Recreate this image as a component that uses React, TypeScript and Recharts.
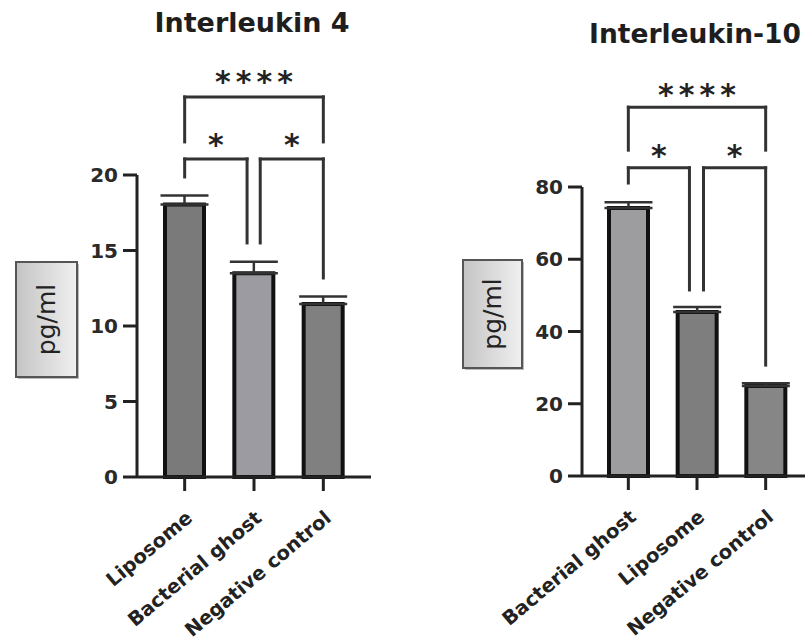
import React from 'react';
import { BarChart, Bar, XAxis, YAxis, Cell, ErrorBar, ReferenceLine, ReferenceDot } from 'recharts';

// ---- Interleukin 4 ----
const il4Categories = ['Liposome', 'Bacterial ghost', 'Negative control'];
const il4Means = [18.05, 13.5, 11.45];
const il4Errors = [0.6, 0.75, 0.5];
const il4Ticks = [0, 5, 10, 15, 20];

// ---- Interleukin-10 ----
const il10Categories = ['Bacterial ghost', 'Liposome', 'Negative control'];
const il10Means = [74.2, 45.4, 24.9];
const il10Errors = [1.6, 1.4, 0.8];
const il10Ticks = [0, 20, 40, 60, 80];

// significance annotations (x in category index units, y in data units)
const il4Sig = [
  { x1: 0, x2: 2, top: 25.17, b1: 22.19, b2: 22.19, text: '****', ty: 26.6 },
  { x1: 0, x2: 0.9, top: 21.06, b1: 19.87, b2: 15.5, text: '*', ty: 22.4 },
  { x1: 1.09, x2: 2, top: 21.06, b1: 15.5, b2: 13.18, text: '*', ty: 22.4 },
];
const il10Sig = [
  { x1: 0, x2: 2, top: 102.1, b1: 90.2, b2: 90.2, text: '****', ty: 107.4 },
  { x1: 0, x2: 0.89, top: 85.3, b1: 81.1, b2: 51.5, text: '*', ty: 90.4 },
  { x1: 1.095, x2: 2, top: 85.3, b1: 51.5, b2: 30.7, text: '*', ty: 90.4 },
];

const il4Fills = ['#7a7a7a', '#9b9ba1', '#808080'];
const il10Fills = ['#9d9d9f', '#7e7e7e', '#868686'];

const AX = '#222';
const BOLD = '"DejaVu Sans", sans-serif';

const CatTick = (props: any) => {
  const { x, y, payload } = props;
  const ax = x + 9;
  const ay = y + 27;
  return (
    <text
      x={ax}
      y={ay}
      transform={`rotate(-40 ${ax} ${ay})`}
      textAnchor="end"
      fontFamily={BOLD}
      fontWeight="bold"
      fontSize={19.5}
      fill="#222"
    >
      {payload.value}
    </text>
  );
};

const makeBoxLabel = (dx: number, w: number, dy: number, h: number, gid: string) => (props: any) => {
  const vb = props.viewBox || { x: 0, y: 0, width: 0, height: 0 };
  const bx = vb.x - dx;
  const by = vb.y + dy;
  const cx = bx + w / 2;
  const cy = by + h / 2;
  return (
    <g>
      <defs>
        <linearGradient id={gid} x1="0" y1="0" x2="1" y2="0">
          <stop offset="0%" stopColor="#c4c4c4" />
          <stop offset="100%" stopColor="#f0f0f0" />
        </linearGradient>
      </defs>
      <rect x={bx + 2} y={by + 2} width={w} height={h} fill="#bbb" />
      <rect x={bx} y={by} width={w} height={h} fill={`url(#${gid})`} stroke="#555" strokeWidth={2} />
      <text
        x={cx}
        y={cy}
        transform={`rotate(-90 ${cx} ${cy})`}
        textAnchor="middle"
        dominantBaseline="central"
        fontFamily='"DejaVu Sans", sans-serif'
        fontSize={25}
        fill="#222"
      >
        pg/ml
      </text>
    </g>
  );
};

const starShape = (text: string, size: number, spacing: number) => (p: any) => (
  <text
    x={p.cx + spacing / 2}
    y={p.cy + size * 0.55}
    textAnchor="middle"
    fontFamily={BOLD}
    fontWeight="bold"
    fontSize={size}
    letterSpacing={spacing}
    fill="#222"
  >
    {text}
  </text>
);

function renderSig(sig: any[], prefix: string) {
  const out: any[] = [];
  sig.forEach((s, i) => {
    const common = {
      xAxisId: 'n',
      ifOverflow: 'visible' as const,
      stroke: '#333',
      strokeWidth: 3,
      strokeLinecap: 'square' as const,
    };
    out.push(<ReferenceLine key={`${prefix}h${i}`} {...common} segment={[{ x: s.x1, y: s.top }, { x: s.x2, y: s.top }]} />);
    out.push(<ReferenceLine key={`${prefix}l${i}`} {...common} segment={[{ x: s.x1, y: s.top }, { x: s.x1, y: s.b1 }]} />);
    out.push(<ReferenceLine key={`${prefix}r${i}`} {...common} segment={[{ x: s.x2, y: s.top }, { x: s.x2, y: s.b2 }]} />);
    const big = s.text.length > 1;
    out.push(
      <ReferenceDot
        key={`${prefix}t${i}`}
        xAxisId="n"
        x={(s.x1 + s.x2) / 2}
        y={s.ty}
        r={0}
        ifOverflow="visible"
        shape={starShape(s.text, 30, big ? 5 : 0)}
      />
    );
  });
  return out;
}

function Panel(props: {
  cats: string[];
  means: number[];
  errs: number[];
  fills: string[];
  ticks: number[];
  sig: any[];
  width: number;
  height: number;
  margin: any;
  xh: number;
  pad: number;
  box: [number, number, number, number];
  gid: string;
}) {
  const data = props.cats.map((c, i) => ({ name: c, mean: props.means[i], err: [0, props.errs[i]] }));
  const max = props.ticks[props.ticks.length - 1];
  const plotW = props.width - props.margin.left - props.margin.right - 60;
  const band = (plotW - 2 * props.pad) / props.cats.length;
  const npad = props.pad + band / 2;
  return (
    <BarChart width={props.width} height={props.height} data={data} margin={props.margin}>
      <XAxis
        dataKey="name"
        type="category"
        interval={0}
        padding={{ left: props.pad, right: props.pad }}
        axisLine={{ stroke: AX, strokeWidth: 3 }}
        tickLine={{ stroke: AX, strokeWidth: 3 }}
        tickSize={14}
        tickMargin={2}
        height={props.xh}
        tick={<CatTick />}
      />
      <XAxis
        xAxisId="n"
        type="number"
        domain={[0, props.cats.length - 1]}
        allowDataOverflow
        hide
        padding={{ left: npad, right: npad }}
      />
      <YAxis
        domain={[0, max]}
        ticks={props.ticks}
        interval={0}
        width={60}
        axisLine={{ stroke: AX, strokeWidth: 3 }}
        tickLine={{ stroke: AX, strokeWidth: 3 }}
        tickSize={14}
        tickMargin={5}
        tick={{ fontFamily: BOLD, fontWeight: 'bold', fontSize: 20, fill: '#2a2a2a' }}
        label={{ content: makeBoxLabel(props.box[0], props.box[1], props.box[2], props.box[3], props.gid) } as any}
      />
      <Bar dataKey="mean" barSize={39} stroke="#111" strokeWidth={4} isAnimationActive={false}>
        {data.map((d, i) => (
          <Cell key={d.name} fill={props.fills[i]} />
        ))}
        <ErrorBar dataKey="err" width={24} stroke="#333" strokeWidth={2.5} direction="y" isAnimationActive={false} />
      </Bar>
      {renderSig(props.sig, props.gid)}
    </BarChart>
  );
}

export default function App() {
  return (
    <div style={{ position: 'absolute', left: 0, top: 0, width: 805, height: 641, overflow: 'hidden', background: '#fff' }}>
      <div style={{ position: 'absolute', left: 0, top: 0 }}>
        <Panel
          cats={il4Categories}
          means={il4Means}
          errs={il4Errors}
          fills={il4Fills}
          ticks={il4Ticks}
          sig={il4Sig}
          width={400}
          height={641}
          margin={{ top: 175, right: 29, bottom: 0, left: 77 }}
          xh={164}
          pad={13}
          box={[61, 61, 87, 115]}
          gid="il4"
        />
      </div>
      <div style={{ position: 'absolute', left: 400, top: 0 }}>
        <Panel
          cats={il10Categories}
          means={il10Means}
          errs={il10Errors}
          fills={il10Fills}
          ticks={il10Ticks}
          sig={il10Sig}
          width={420}
          height={641}
          margin={{ top: 187, right: 8, bottom: 0, left: 122 }}
          xh={165}
          pad={12}
          box={[59, 59, 73, 108]}
          gid="il10"
        />
      </div>
      <svg width={805} height={60} style={{ position: 'absolute', left: 0, top: 0 }}>
        <text x={252} y={32} textAnchor="middle" fontFamily={BOLD} fontWeight="bold" fontSize={27} fill="#1e1e1e">
          Interleukin 4
        </text>
        <text x={695} y={43} textAnchor="middle" fontFamily={BOLD} fontWeight="bold" fontSize={26.5} fill="#1e1e1e">
          Interleukin-10
        </text>
      </svg>
    </div>
  );
}
